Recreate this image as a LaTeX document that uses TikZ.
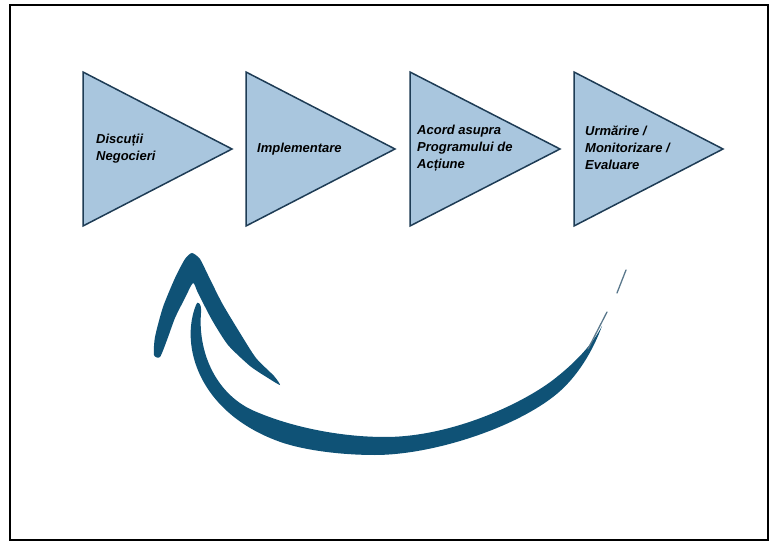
\documentclass[tikz,border=0pt]{standalone}
\usepackage{fontspec}
\setsansfont{Liberation Sans}
\usepackage{xcolor}
\usepackage{tikz}
\usetikzlibrary{positioning,calc}
\definecolor{stagefill}{RGB}{169,198,222}
\definecolor{stageline}{RGB}{30,60,85}
\definecolor{loopblue}{RGB}{15,82,118}
\definecolor{loopfaint}{RGB}{90,120,140}
\tikzset{
  figfont/.style={font=\fontsize{13}{17}\selectfont\sffamily\bfseries\itshape},
  stagetri/.style={draw=stageline, fill=stagefill, line width=1.5pt, line join=miter},
  stagelabel/.style={anchor=west, align=left, inner sep=0pt},
  loopink/.style={fill=loopblue},
  looptail/.style={draw=loopfaint, line width=1.3pt, line cap=round},
}
\begin{document}
\begin{tikzpicture}[x=1pt, y=-1pt, figfont]
		\useasboundingbox (0,0) rectangle (777,556);
		% Outer frame
		\draw[line width=1.6pt] (10,5) rectangle (768,540);

		% Process stages
		\draw[stagetri] (83,72) -- (232,149) -- (83,226) -- cycle;
		\draw[stagetri] (246,72) -- (395,149) -- (246,226) -- cycle;
		\draw[stagetri] (410,72) -- (560,149) -- (410,226) -- cycle;
		\draw[stagetri] (574,72) -- (723,149) -- (574,226) -- cycle;
		\node[stagelabel] (disc) at (96,149) {Discuții\\Negocieri};
		\node[stagelabel] (impl) at (257,149) {Implementare};
		\node[stagelabel] (acord) at (417,148) {Acord asupra\\Programului de\\Acțiune};
		\node[stagelabel] (urm) at (585,148) {Urmărire /\\Monitorizare /\\Evaluare};

		% Feedback loop: brush shaft
		\fill[loopink] (196,305)
			.. controls (180,345) and (198,410) .. (275,440)
			.. controls (300,450) and (340,455) .. (375,455)
			.. controls (430,455) and (510,430) .. (553,397)
			.. controls (578,378) and (594,348) .. (602,326)
			.. controls (592,345) and (575,363) .. (553,380)
			.. controls (520,405) and (450,437) .. (385,437)
			.. controls (340,437) and (290,427) .. (252,410)
			.. controls (214,392) and (198,350) .. (201,313)
			.. controls (202,303) and (197,300) .. (196,305) -- cycle;
		\draw[looptail] (588,349) -- (607,312);
		\draw[looptail] (617,293) -- (626,270);

		% Feedback loop: brush arrowhead
		\fill[loopink] plot[smooth cycle, tension=0.4] coordinates {
			(192,253) (200,259) (208,275) (222,303) (240,333) (256,358) (274,376)
			(280,385) (268,378) (250,366) (228,345) (212,320) (198,293) (193,283)
			(185,298) (175,318) (167,340) (160,357) (154,355) (155,337) (163,307)
			(175,278) (185,259)};
	\end{tikzpicture}
\end{document}
